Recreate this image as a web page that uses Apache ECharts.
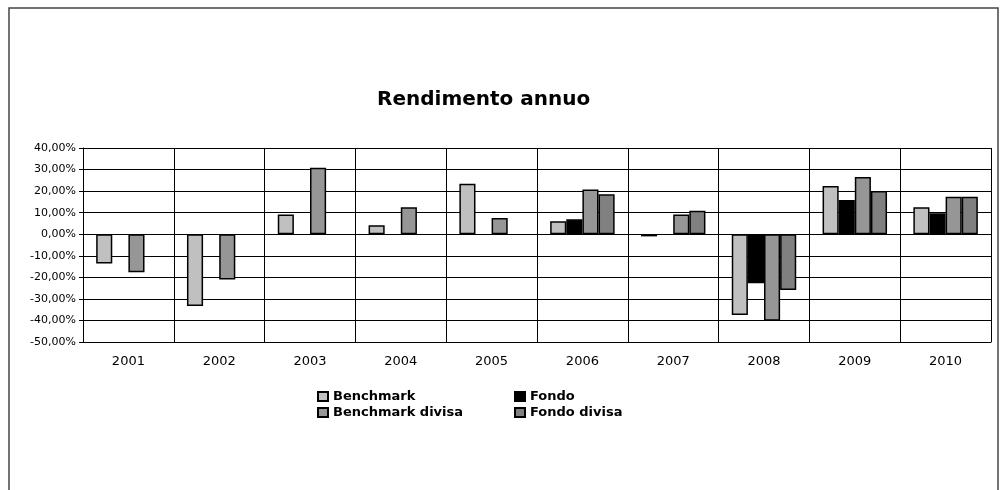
<!DOCTYPE html>
<html>
<head>
<meta charset="utf-8">
<script src="https://cdn.jsdelivr.net/npm/echarts@6/dist/echarts.min.js"></script>
<style>
html,body{margin:0;padding:0;background:#fff;}
#chart{width:1004px;height:490px;}
</style>
</head>
<body>
<div id="chart"></div>
<script>
const categories = ['2001','2002','2003','2004','2005','2006','2007','2008','2009','2010'];
const benchmark = [-13.6, -33.3, 9.1, 4.2, 23.4, 6.0, -1.0, -37.5, 22.4, 12.5];
const fondo = [null, null, null, null, null, 6.9, null, -22.8, 15.9, 9.7];
const benchmarkDivisa = [-17.6, -21.0, 30.8, 12.5, 7.5, 20.8, 9.1, -40.1, 26.6, 17.4];
const fondoDivisa = [null, null, null, null, null, 18.5, 10.9, -25.9, 20.0, 17.4];
const seriesNames = ['Benchmark', 'Fondo', 'Benchmark divisa', 'Fondo divisa'];
const seriesColors = ['#C0C0C0', '#000000', '#969696', '#808080'];
const seriesData = [benchmark, fondo, benchmarkDivisa, fondoDivisa];

const chart = echarts.init(document.getElementById('chart'), null, {renderer: 'canvas'});
const FONT = 'DejaVu Sans';
const legendText = {fontFamily: FONT, fontWeight: 'bold', fontSize: 13, color: '#000', lineHeight: 13};
chart.setOption({
  animation: false,
  backgroundColor: '#ffffff',
  title: {
    text: 'Rendimento annuo',
    left: 377,
    top: 90,
    padding: 0,
    textStyle: {fontFamily: FONT, fontWeight: 'bold', fontSize: 20, color: '#000'}
  },
  graphic: [{
    type: 'rect',
    shape: {x: 9, y: 8, width: 989, height: 520},
    style: {fill: 'none', stroke: '#444', lineWidth: 1.5},
    silent: true
  }],
  legend: [{
    data: [seriesNames[0], seriesNames[2]],
    orient: 'vertical',
    left: 317,
    top: 390,
    padding: 0,
    itemWidth: 10,
    itemHeight: 9,
    itemGap: 3,
    icon: 'rect',
    textStyle: legendText
  }, {
    data: [seriesNames[1], seriesNames[3]],
    orient: 'vertical',
    left: 514,
    top: 390,
    padding: 0,
    itemWidth: 10,
    itemHeight: 9,
    itemGap: 3,
    icon: 'rect',
    textStyle: legendText
  }],
  grid: {left: 83, right: 13, top: 148, bottom: 148, containLabel: false},
  xAxis: {
    type: 'category',
    data: categories,
    boundaryGap: true,
    axisLine: {onZero: false, lineStyle: {color: '#000', width: 1}},
    axisTick: {show: false},
    axisLabel: {fontFamily: FONT, fontSize: 13, color: '#000', margin: 13},
    splitLine: {show: true, lineStyle: {color: '#000', width: 1}}
  },
  yAxis: {
    type: 'value',
    min: -50,
    max: 40,
    interval: 10,
    axisLine: {show: true, lineStyle: {color: '#000', width: 1}},
    axisTick: {show: true, length: 4, lineStyle: {color: '#000'}},
    axisLabel: {
      fontFamily: FONT, fontSize: 11, color: '#000', margin: 7,
      formatter: v => v.toFixed(2).replace('.', ',') + '%'
    },
    splitLine: {show: true, lineStyle: {color: '#000', width: 1}}
  },
  series: seriesNames.map((name, i) => ({
    name: name,
    type: 'bar',
    data: seriesData[i],
    barGap: '0%',
    barCategoryGap: '29%',
    itemStyle: {color: seriesColors[i], borderColor: '#000', borderWidth: 1.5}
  }))
});
</script>
</body>
</html>
